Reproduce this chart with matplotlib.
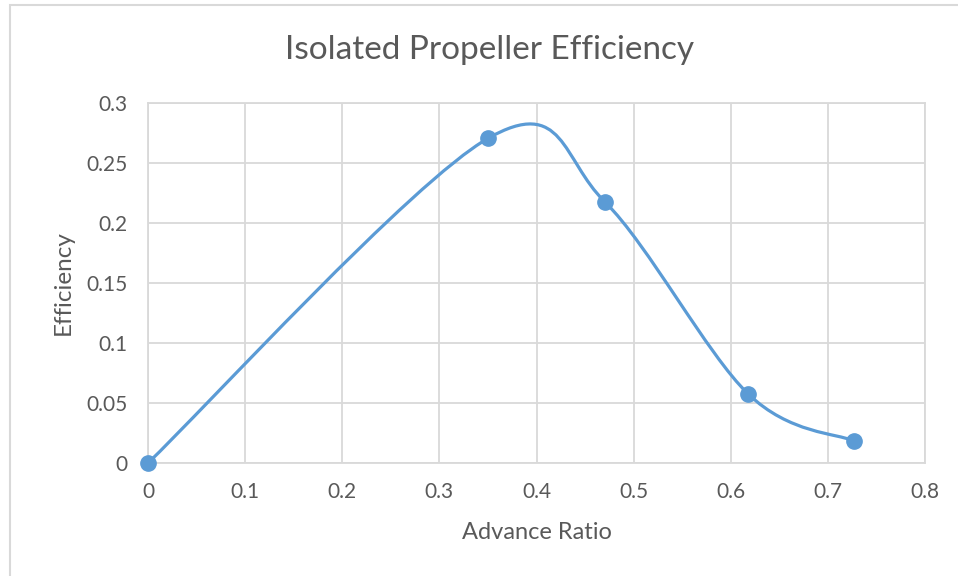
import matplotlib
matplotlib.use("Agg")
from matplotlib import pyplot as plt
from matplotlib.path import Path
from matplotlib.patches import PathPatch, Rectangle
import numpy as np

plt.rcParams['font.family'] = ['Lato', 'DejaVu Sans']

advance_ratio = [0.0, 0.35, 0.4705, 0.618, 0.7265]
efficiency = [0.0, 0.2705, 0.2175, 0.0575, 0.0185]

title = "Isolated Propeller Efficiency"
xlabel = "Advance Ratio"
ylabel = "Efficiency"
xticks = [0, 0.1, 0.2, 0.3, 0.4, 0.5, 0.6, 0.7, 0.8]
yticks = [0, 0.05, 0.1, 0.15, 0.2, 0.25, 0.3]
xtick_labels = ["0", "0.1", "0.2", "0.3", "0.4", "0.5", "0.6", "0.7", "0.8"]
ytick_labels = ["0", "0.05", "0.1", "0.15", "0.2", "0.25", "0.3"]

line_col = "#5B9BD5"
grid_col = "#D9D9D9"
text_col = "#595959"


def smooth_path(xs, ys, k=6.0):
    # Excel-like smoothed line: cubic Bezier segments through the points
    pts = np.column_stack([xs, ys])
    n = len(pts)
    verts = [pts[0]]
    codes = [Path.MOVETO]
    for i in range(n - 1):
        p0 = pts[max(i - 1, 0)]
        p1 = pts[i]
        p2 = pts[i + 1]
        p3 = pts[min(i + 2, n - 1)]
        c1 = p1 + (p2 - p0) / k
        c2 = p2 - (p3 - p1) / k
        verts += [c1, c2, p2]
        codes += [Path.CURVE4] * 3
    return Path(verts, codes)


fig = plt.figure(figsize=(9.58, 5.76), dpi=100)
fig.patches.append(Rectangle((10 / 958, -0.1), 1.2, 1 - 5 / 576 + 0.1,
                             transform=fig.transFigure, fill=False,
                             edgecolor=grid_col, linewidth=1.5))

ax = fig.add_axes([148 / 958, 113 / 576, 777 / 958, 360 / 576])

ax.add_patch(PathPatch(smooth_path(advance_ratio, efficiency), fill=False,
                       edgecolor=line_col, linewidth=2.3, capstyle='round', zorder=3))
ax.plot(advance_ratio, efficiency, linestyle='none', marker='o', markersize=11,
        color=line_col, zorder=4, clip_on=False)

ax.set_xlim(0, 0.8)
ax.set_ylim(0, 0.3)
ax.set_xticks(xticks)
ax.set_xticklabels(xtick_labels)
ax.set_yticks(yticks)
ax.set_yticklabels(ytick_labels)
ax.grid(True, color=grid_col, linewidth=1.3)
ax.set_axisbelow(True)
for s in ax.spines.values():
    s.set_color(grid_col)
    s.set_linewidth(1.3)
ax.tick_params(length=0, labelsize=15, labelcolor=text_col)
ax.tick_params(axis='x', pad=14)
ax.tick_params(axis='y', pad=15)

fig.text(490 / 958, 1 - 50 / 576, title, fontsize=24, color=text_col,
         ha='center', va='center')
ax.set_xlabel(xlabel, fontsize=17, color=text_col, labelpad=14)
ax.set_ylabel(ylabel, fontsize=17.5, color=text_col, labelpad=9)

plt.savefig("out.png", dpi=100)
plt.close()
